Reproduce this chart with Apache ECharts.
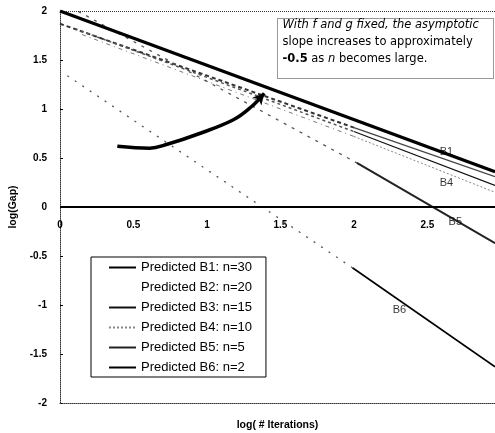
<!DOCTYPE html>
<html>
<head>
<meta charset="utf-8">
<script src="https://cdn.jsdelivr.net/npm/echarts@6/dist/echarts.min.js"></script>
<style>
  html, body { margin: 0; padding: 0; background: #fff; }
  #chart { width: 495px; height: 433px; }
</style>
</head>
<body>
<div id="chart"></div>
<script>
// series names in the legend
var names = ['Predicted B1: n=30', 'Predicted B2: n=20', 'Predicted B3: n=15',
             'Predicted B4: n=10', 'Predicted B5: n=5', 'Predicted B6: n=2'];

// [log(#iterations), log(gap)]
var b1 = [[0, 2], [2.96, 0.36]];
var b2 = [[2.0, 0.81], [2.96, 0.31]];
var b3 = [[2.0, 0.77], [2.96, 0.22]];
var b4 = [[2.0, 0.72], [2.96, 0.15]];
var b5 = [[2.02, 0.45], [2.96, -0.37]];
var b6 = [[1.99, -0.62], [2.96, -1.63]];

// dashed / dotted extrapolations toward x = 0
var b2Pred = [[0, 1.87], [2.0, 0.81]];
var b3Pred = [[0.1, 1.82], [2.0, 0.77]];
var b4Pred = [[0.15, 1.76], [2.0, 0.72]];
var b5Pred = [[0.07, 2.04], [2.02, 0.45]];
var b6Pred = [[0.05, 1.34], [1.99, -0.62]];

// curved arrow
var arrowPath = [[0.39, 0.62], [0.61, 0.6], [0.73, 0.64], [0.95, 0.75], [1.18, 0.89], [1.3, 1.02], [1.39, 1.16]];

// line tags
var tags = [[2.63, 0.56, 'B1'], [2.63, 0.25, 'B4'], [2.69, -0.15, 'B5'], [2.31, -1.05, 'B6']];

var noteLines = ['With f and g fixed, the asymptotic', 'slope increases to approximately', '-0.5 as n  becomes large.'];

var myChart = echarts.init(document.getElementById('chart'));

function ln(name, data, color, width, type, z) {
    return {
        name: name,
        type: 'line',
        data: data,
        symbol: 'none',
        silent: true,
        z: z || 2,
        itemStyle: { color: color },
        lineStyle: { color: color, width: width, type: type || 'solid' }
    };
}

var series = [
    ln(names[0], b1, '#000', 3.2, 'solid', 5),
    ln(names[1], b2, '#444', 1.3),
    ln(names[2], b3, '#111', 1.2),
    ln(names[3], b4, '#888', 1, [2, 2]),
    ln(names[4], b5, '#222', 2),
    ln(names[5], b6, '#000', 1.6),
    ln('b2p', b2Pred, '#333', 2, [4, 3]),
    ln('b3p', b3Pred, '#555', 1.5, [3, 3]),
    ln('b4p', b4Pred, '#777', 1, [4, 4, 1, 4]),
    ln('b5p', b5Pred, '#555', 1.3, [3, 6]),
    ln('b6p', b6Pred, '#555', 1.3, [2, 7])
];

// arrow
var arrowData = arrowPath.map(function (p, i) {
    if (i == arrowPath.length - 1) {
        return { value: p, symbol: 'arrow', symbolSize: [9, 11], symbolRotate: -42 };
    }
    return { value: p, symbol: 'none' };
});
series.push({
    name: 'arrow',
    type: 'line',
    data: arrowData,
    smooth: 0.4,
    silent: true,
    z: 6,
    itemStyle: { color: '#000' },
    lineStyle: { color: '#000', width: 3.5 }
});

// B labels
series.push({
    name: 'tags',
    type: 'scatter',
    data: tags,
    symbolSize: 0,
    silent: true,
    label: {
        show: true,
        position: 'inside',
        formatter: function (p) { return p.value[2]; },
        color: '#000',
        fontSize: 11,
        fontFamily: 'Liberation Sans'
    }
});

// dotted bottom/top frame and the solid zero line
series.push({
    name: 'frame',
    type: 'line',
    data: [],
    silent: true,
    markLine: {
        symbol: 'none',
        silent: true,
        label: { show: false },
        lineStyle: { color: '#333', width: 1, type: [1, 1] },
        data: [
            { yAxis: 2 },
            { yAxis: -2 },
            { yAxis: 0, lineStyle: { color: '#000', width: 2.2, type: 'solid' } }
        ]
    }
});

var legendData = names.map(function (n, i) {
    if (i == 1) return { name: n, lineStyle: { opacity: 0 } };
    return { name: n };
});

var option = {
    backgroundColor: '#fff',
    animation: false,
    textStyle: { fontFamily: 'Liberation Sans' },
    grid: { left: 60, right: 0, top: 11, bottom: 30, containLabel: false, outerBoundsMode: 'none' },
    legend: {
        data: legendData,
        orient: 'vertical',
        left: 91,
        top: 257,
        padding: [4, 14, 3, 17],
        itemWidth: 27,
        itemHeight: 14,
        itemGap: 7,
        borderColor: '#000',
        borderWidth: 1,
        backgroundColor: '#fff',
        itemStyle: { opacity: 0 },
        textStyle: { color: '#000', fontSize: 13, fontFamily: 'Liberation Sans' }
    },
    xAxis: {
        type: 'value',
        min: 0,
        max: 2.96,
        interval: 0.5,
        name: 'log( # Iterations)',
        nameLocation: 'middle',
        nameGap: 17,
        nameTextStyle: { fontWeight: 'bold', fontSize: 10.5, color: '#000' },
        axisLine: { onZero: false, lineStyle: { color: '#333', width: 1, type: [1, 1] } },
        axisTick: { show: false },
        axisLabel: { fontWeight: 'bold', fontSize: 10, color: '#000', margin: -183, showMaxLabel: false },
        splitLine: { show: false }
    },
    yAxis: {
        type: 'value',
        min: -2,
        max: 2,
        interval: 0.5,
        name: 'log(Gap)',
        nameLocation: 'middle',
        nameGap: 37,
        nameTextStyle: { fontWeight: 'bold', fontSize: 10.5, color: '#000' },
        axisLine: { show: true, lineStyle: { color: '#333', width: 1, type: [1, 1] } },
        axisTick: { show: true, inside: true, length: 3, lineStyle: { color: '#000' } },
        axisLabel: { fontWeight: 'bold', fontSize: 10, color: '#000', margin: 13 },
        splitLine: { show: false }
    },
    graphic: [{
        type: 'group',
        left: 277,
        top: 18,
        z: 100,
        children: [{
            type: 'rect',
            shape: { x: 0, y: 0, width: 216, height: 60 },
            style: { fill: '#fff', stroke: '#333', lineWidth: 1, lineDash: [1, 1] }
        }, {
            type: 'text',
            left: 5,
            top: 1,
            style: {
                text: '{i|' + noteLines[0] + '}\n{n|' + noteLines[1] + '}\n{b|-0.5}{n| as }{i|n}{n| becomes large.}',
                rich: {
                    i: { fontStyle: 'italic', fontSize: 11.5, fontFamily: 'DejaVu Sans', lineHeight: 17, fill: '#000' },
                    n: { fontSize: 11.5, fontFamily: 'DejaVu Sans', lineHeight: 17, fill: '#000' },
                    b: { fontWeight: 'bold', fontSize: 11.5, fontFamily: 'DejaVu Sans', lineHeight: 17, fill: '#000' }
                }
            }
        }]
    }],
    series: series
};

myChart.setOption(option);
</script>
</body>
</html>
